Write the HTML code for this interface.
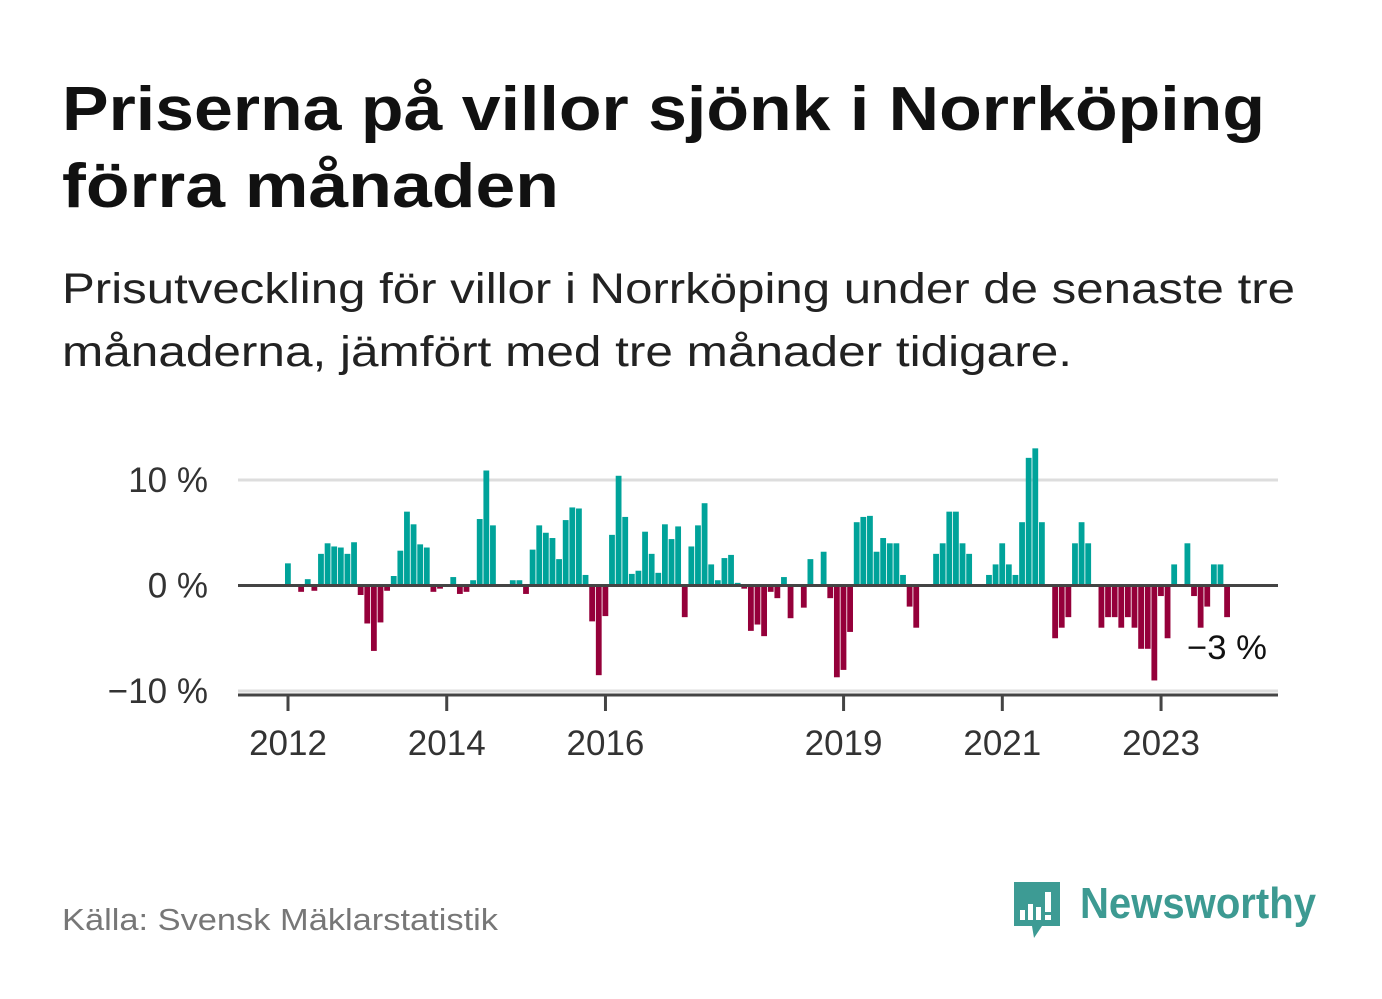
<!DOCTYPE html>
<html><head><meta charset="utf-8"><style>
html,body{margin:0;padding:0;background:#fff;}
svg{display:block;font-family:"Liberation Sans",sans-serif;}
</style></head><body>
<svg id="chart" width="1382" height="999" viewBox="0 0 1382 999">
<text x="62" y="130" font-size="62" font-weight="bold" fill="#111" textLength="1203" lengthAdjust="spacingAndGlyphs">Priserna på villor sjönk i Norrköping</text>
<text x="62" y="207" font-size="62" font-weight="bold" fill="#111" textLength="497" lengthAdjust="spacingAndGlyphs">förra månaden</text>
<text x="62" y="303" font-size="43" fill="#222" textLength="1233" lengthAdjust="spacingAndGlyphs">Prisutveckling för villor i Norrköping under de senaste tre</text>
<text x="62" y="366" font-size="43" fill="#222" textLength="1010" lengthAdjust="spacingAndGlyphs">månaderna, jämfört med tre månader tidigare.</text>
<g id="grid"></g>
<g id="bars"></g>
<g id="axes"></g>
<text x="1187" y="659" font-size="34" fill="#111" textLength="80" lengthAdjust="spacingAndGlyphs">−3 %</text>
<text x="62" y="930" font-size="31" fill="#777" textLength="436" lengthAdjust="spacingAndGlyphs">Källa: Svensk Mäklarstatistik</text>
<g>
<path d="M1014 882 h46 v44 h-18 l-8 12 l-2 -12 h-18 z" fill="#3d9b94"/>
<rect x="1020" y="910" width="5" height="10" fill="#fff"/>
<rect x="1028" y="904" width="5" height="16" fill="#fff"/>
<rect x="1036" y="907" width="5" height="13" fill="#fff"/>
<rect x="1045" y="892" width="6" height="20" fill="#fff"/>
<rect x="1045" y="915" width="6" height="5" fill="#fff"/>
<text x="1080" y="918" font-size="44" font-weight="bold" fill="#3d9a92" textLength="236" lengthAdjust="spacingAndGlyphs">Newsworthy</text>
</g>
</svg>
<script>
const values = [2.1,0,-0.6,0.6,-0.5,3.0,4.0,3.7,3.6,3.0,4.1,-0.9,
-3.6,-6.2,-3.5,-0.5,0.9,3.3,7.0,5.8,3.9,3.6,-0.6,-0.3,
0,0.8,-0.8,-0.6,0.5,6.3,10.9,5.7,0,0,0.5,0.5,
-0.8,3.4,5.7,5.0,4.5,2.5,6.2,7.4,7.3,1.0,-3.4,-8.5,
-2.9,4.8,10.4,6.5,1.1,1.4,5.1,3.0,1.2,5.8,4.4,5.6,
-3.0,3.7,5.7,7.8,2.0,0.5,2.6,2.9,0.25,-0.3,-4.3,-3.7,
-4.8,-0.6,-1.2,0.8,-3.1,0,-2.1,2.5,0,3.2,-1.2,-8.7,
-8.0,-4.4,6.0,6.5,6.6,3.2,4.5,4.0,4.0,1.0,-2.0,-4.0,
0,0,3.0,4.0,7.0,7.0,4.0,3.0,0,0,1.0,2.0,
4.0,2.0,1.0,6.0,12.1,13.0,6.0,0,-5.0,-4.0,-3.0,4.0,
6.0,4.0,0,-4.0,-3.0,-3.0,-4.0,-3.0,-4.0,-6.0,-6.0,-9.0,
-1.0,-5.0,2.0,0,4.0,-1.0,-4.0,-2.0,2.0,2.0,-3.0];
const startYear = 2012;
const yTicks = [10,0,-10];
const yTickLabels = ["10 %","0 %","−10 %"];
const xTickYears = [2012,2014,2016,2019,2021,2023];
const NS="http://www.w3.org/2000/svg";
const x0=288, monthW=6.614, yZero=585.5, pxPer=10.55;
const xL=238, xR=1278;
function xScale(i){return x0+i*monthW;}
function yScale(v){return yZero - v*pxPer;}
function mk(tag,attrs,parent){const e=document.createElementNS(NS,tag);for(const k in attrs)e.setAttribute(k,attrs[k]);parent.appendChild(e);return e;}
const grid=document.getElementById('grid'),bars=document.getElementById('bars'),axes=document.getElementById('axes');
yTicks.forEach((t,k)=>{
  const y=yScale(t);
  if(t!==0){
    const l=mk('line',{x1:xL,x2:xR,y1:y,y2:y,stroke:'#ddd','stroke-width':3},grid);
    
    
  }
  const tx=mk('text',{x:208,y:y+12,'text-anchor':'end','font-size':35,fill:'#333'},grid);
  tx.textContent=yTickLabels[k];
  
  
});
values.forEach((v,i)=>{
  if(v===0)return;
  const y=yScale(Math.max(v,0)),h=Math.abs(yScale(v)-yZero);
  const r=mk('rect',{x:xScale(i)-3,y:y,width:5.8,height:h,fill:v>0?'#00a39a':'#95003a'},bars);
  
  
});
const zl=mk('line',{x1:xL,x2:xR,y1:yZero,y2:yZero,stroke:'#444','stroke-width':3},axes);


const xa=mk('line',{x1:xL,x2:xR,y1:695,y2:695,stroke:'#444','stroke-width':3},axes);


xTickYears.forEach(yr=>{
  const x=xScale((yr-startYear)*12);
  const t=mk('line',{x1:x,x2:x,y1:695,y2:711,stroke:'#444','stroke-width':3},axes);
  
  
  const tx=mk('text',{x:x,y:755,'text-anchor':'middle','font-size':35,fill:'#333'},axes);
  tx.textContent=yr;
  
  
});
</script>
</body></html>
